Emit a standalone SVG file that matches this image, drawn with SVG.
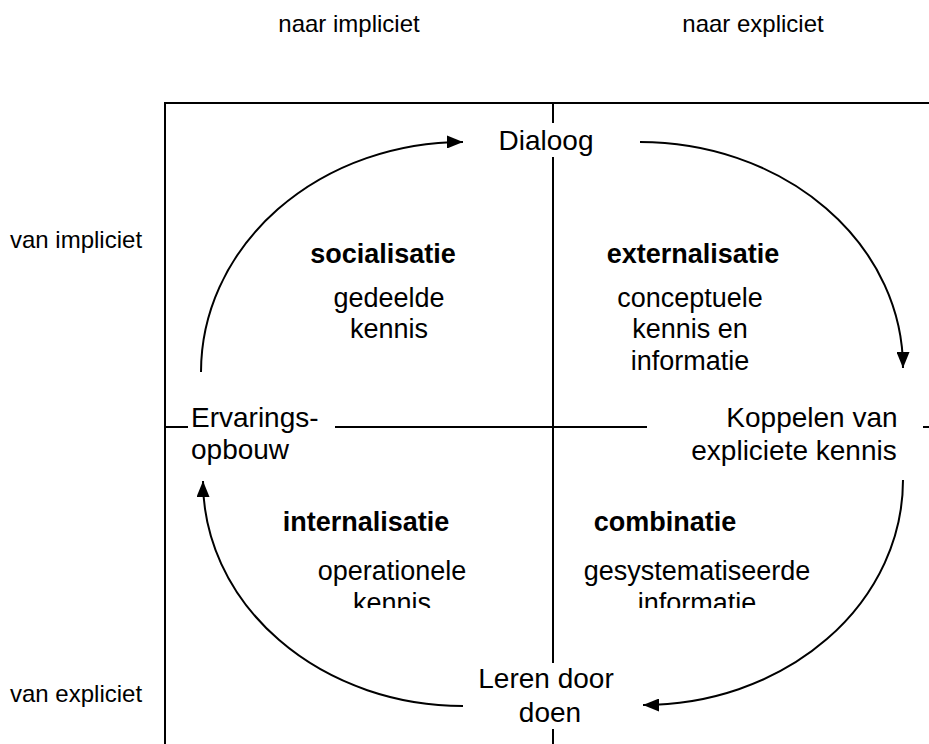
<svg xmlns="http://www.w3.org/2000/svg" width="929" height="744" viewBox="0 0 929 744">
<style>
  text { font-family: "Liberation Sans", Arial, sans-serif; fill: #000; }
  .hdr { font-size: 24px; }
  .big { font-size: 28px; }
  .lbl { font-size: 27px; font-weight: bold; }
  .sub { font-size: 27px; }
  .mid { text-anchor: middle; }
  .grid { stroke: #000; stroke-width: 2; fill: none; }
  .arc { stroke: #000; stroke-width: 2; fill: none; marker-end: url(#arrow); }
</style>
<defs>
  <marker id="arrow" markerUnits="userSpaceOnUse" markerWidth="17" markerHeight="13" refX="16" refY="6.5" orient="auto">
    <path d="M0,0 L16,6.5 L0,13 Z" fill="#000"/>
  </marker>
  <clipPath id="cut">
    <rect x="0" y="0" width="929" height="608"/>
  </clipPath>
</defs>
<rect width="929" height="744" fill="#fff"/>

<g id="headers">
  <text class="hdr mid" x="349" y="32">naar impliciet</text>
  <text class="hdr mid" x="753" y="32">naar expliciet</text>
  <text class="hdr" x="10" y="248">van impliciet</text>
  <text class="hdr" x="10" y="702">van expliciet</text>
</g>

<g id="grid" class="grid">
  <line x1="165" y1="103" x2="929" y2="103"/>
  <line x1="165" y1="102" x2="165" y2="744"/>
  <line x1="553" y1="103" x2="553" y2="123"/>
  <line x1="553" y1="157" x2="553" y2="663"/>
  <line x1="553" y1="729" x2="553" y2="744"/>
  <line x1="165" y1="427" x2="188" y2="427"/>
  <line x1="335" y1="427" x2="647" y2="427"/>
  <line x1="923" y1="427" x2="929" y2="427"/>
</g>

<g id="connectors">
  <path class="arc" d="M201,372 A262,230 0 0 1 463,142"/>
  <path class="arc" d="M640,142 A263,226 0 0 1 903,368"/>
  <path class="arc" d="M903,480 A260,225 0 0 1 643,705"/>
  <path class="arc" d="M463,706 A260,225 0 0 1 203,481"/>
</g>

<g id="dialoog">
  <text class="big mid" x="546" y="150">Dialoog</text>
</g>
<g id="ervaringsopbouw">
  <text class="big" x="191" y="427">Ervarings-</text>
  <text class="big" x="191" y="459">opbouw</text>
</g>
<g id="koppelen">
  <text class="big mid" x="812" y="427">Koppelen van</text>
  <text class="big mid" x="794" y="460">expliciete kennis</text>
</g>
<g id="leren">
  <text class="big mid" x="546" y="688">Leren door</text>
  <text class="big mid" x="550" y="722">doen</text>
</g>

<g id="socialisatie">
  <text class="lbl mid" x="383" y="263">socialisatie</text>
  <text class="sub mid" x="389" y="307">gedeelde</text>
  <text class="sub mid" x="389" y="338">kennis</text>
</g>
<g id="externalisatie">
  <text class="lbl mid" x="693" y="263">externalisatie</text>
  <text class="sub mid" x="690" y="307">conceptuele</text>
  <text class="sub mid" x="690" y="338">kennis en</text>
  <text class="sub mid" x="690" y="370">informatie</text>
</g>
<g id="internalisatie">
  <text class="lbl mid" x="366" y="531">internalisatie</text>
  <g clip-path="url(#cut)">
    <text class="sub mid" x="392" y="580">operationele</text>
    <text class="sub mid" x="392" y="612">kennis</text>
  </g>
</g>
<g id="combinatie">
  <text class="lbl mid" x="665" y="531">combinatie</text>
  <g clip-path="url(#cut)">
    <text class="sub mid" x="697" y="580">gesystematiseerde</text>
    <text class="sub mid" x="697" y="612">informatie</text>
  </g>
</g>
</svg>
